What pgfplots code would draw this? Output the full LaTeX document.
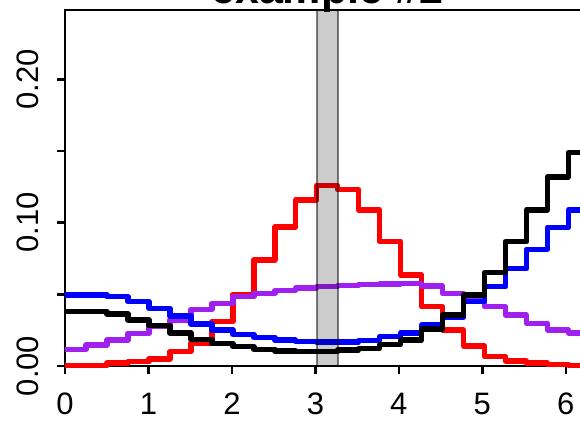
\documentclass[border=0pt]{standalone}
\usepackage{fontspec}
\setmainfont{Liberation Sans}
\usepackage{pgfplots}
\usepackage{pgfplotstable}
\pgfplotsset{compat=1.18}

\definecolor{rpurple}{HTML}{A020F0}

% one row per bin, bin width 2*pi/25
\pgfplotstableread{
x       red     blue    black   purple
0.0000  0.0005  0.0495  0.0379  0.0116
0.2513  0.0005  0.0495  0.0379  0.0146
0.5027  0.0020  0.0484  0.0363  0.0181
0.7540  0.0030  0.0449  0.0321  0.0228
1.0053  0.0050  0.0402  0.0281  0.0274
1.2566  0.0100  0.0350  0.0230  0.0320
1.5080  0.0160  0.0293  0.0186  0.0395
1.7593  0.0310  0.0251  0.0158  0.0437
2.0106  0.0500  0.0221  0.0135  0.0484
2.2619  0.0740  0.0200  0.0116  0.0507
2.5133  0.0970  0.0180  0.0105  0.0526
2.7646  0.1160  0.0170  0.0100  0.0545
3.0159  0.1260  0.0166  0.0100  0.0553
3.2673  0.1230  0.0166  0.0110  0.0560
3.5186  0.1090  0.0177  0.0121  0.0570
3.7699  0.0870  0.0205  0.0150  0.0572
4.0212  0.0635  0.0232  0.0181  0.0577
4.2726  0.0414  0.0286  0.0258  0.0558
4.5239  0.0251  0.0340  0.0356  0.0507
4.7752  0.0140  0.0449  0.0495  0.0465
5.0265  0.0065  0.0553  0.0651  0.0414
5.2779  0.0035  0.0680  0.0867  0.0356
5.5292  0.0020  0.0814  0.1089  0.0298
5.7805  0.0010  0.0968  0.1320  0.0251
6.0319  0.0005  0.1089  0.1488  0.0232
6.2832  0.0005  0.1089  0.1488  0.0232
}\bins

\begin{document}
\begin{tikzpicture}
\begin{axis}[
    at={(0pt,0pt)}, anchor=south west,
    scale only axis, width=524.4pt, height=356pt,
    xmin=0, xmax=6.2832, ymin=0, ymax=0.2484,
    clip=false,
    axis line style={line width=2.5pt},
    tick style={line width=2.5pt, black},
    tick align=outside, major tick length=8pt,
    xtick pos=bottom, ytick pos=left,
    xtick={0,1,2,3,4,5,6},
    xticklabels={0,1,2,3,4,5,6},
    ytick={0,0.05,0.10,0.15,0.20},
    yticklabels={0.00,,0.10,,0.20},
    tick label style={font=\fontsize{31}{36}\selectfont},
    xticklabel style={inner sep=0pt, yshift=-19pt},
    yticklabel style={inner sep=0pt, xshift=-18pt, rotate=90, anchor=south},
    every axis plot/.append style={const plot, no marks, line width=5.5pt, line join=round},
]
\addplot[red]     table[x=x, y=red]    {\bins};
\addplot[rpurple] table[x=x, y=purple] {\bins};
\addplot[blue]    table[x=x, y=blue]   {\bins};
\addplot[black]   table[x=x, y=black]  {\bins};
\fill[black, fill opacity=0.2] (axis cs:3.0159,0) rectangle (axis cs:3.2673,0.2484);
\draw[black, draw opacity=0.5, line width=2pt] (axis cs:3.0159,0) -- (axis cs:3.0159,0.2484)
    (axis cs:3.2673,0) -- (axis cs:3.2673,0.2484);
\node[anchor=base, font=\fontsize{43}{50}\selectfont\bfseries, yshift=6.5pt]
    at (axis description cs:0.5,1) {example \#2};
\end{axis}
\pgfresetboundingbox
\useasboundingbox (-65pt,-54pt) rectangle (515pt,366pt);
\end{tikzpicture}
\end{document}
